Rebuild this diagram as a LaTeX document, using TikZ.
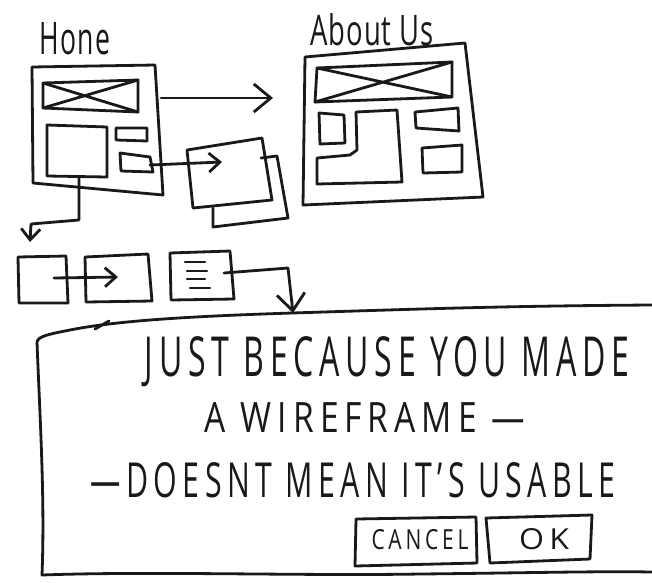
\documentclass[tikz,border=0pt]{standalone}
\usepackage{fontspec}
\setmainfont{Open Sans}
\newfontfamily\sketchfont[LetterSpace=18]{Open Sans}
\newfontfamily\titlefont[LetterSpace=4]{Open Sans}
\usetikzlibrary{arrows.meta}
\tikzset{
  ink/.style={draw=black!90, line width=2.8pt, line join=round, line cap=round},
  thin ink/.style={draw=black!90, line width=2.2pt, line join=round, line cap=round},
  bigbarb/.style={-{Straight Barb[length=17pt,width=28pt,line width=2.8pt]}},
  smallbarb/.style={-{Straight Barb[length=11pt,width=19pt,line width=2.8pt]}},
  label/.style={inner sep=0pt, text=black!90}
}
\begin{document}
\begin{tikzpicture}[x=1pt,y=-1pt]
\useasboundingbox (0,0) rectangle (652,582);
\fill[white] (0,0) rectangle (652,582);

% ---------- Home page ----------
\node[label] (hometitle) at (75,39) {\resizebox{70pt}{32pt}{\titlefont Hone}};
\draw[ink] (32,67) coordinate (hTL) -- (155,65) coordinate (hTR)
  -- (163,195) coordinate (hBR) -- (33,183) coordinate (hBL) -- cycle;
\draw[ink] (43,83) coordinate (hb1) -- (138,80) coordinate (hb2)
  -- (138,112) coordinate (hb3) -- (43,108) coordinate (hb4) -- cycle;
\draw[ink] (hb1) -- (hb3) (hb2) -- (hb4);
\draw[ink] (47,125) -- (107,127) -- (107,177) -- (47,176) -- cycle;
\coordinate (hbigbottom) at (79,177);
\draw[ink] (116,128) -- (147,128) -- (147,141) -- (116,140) -- cycle;
\draw[ink] (120,153) -- (150,157) -- (153,172) -- (121,171) -- cycle;
\coordinate (hsmall) at (150,165);
\coordinate (hright) at (161,98);

% ---------- About Us page ----------
\node[label] (abouttitle) at (372,30) {\resizebox{124pt}{32pt}{\titlefont About Us}};
\draw[ink] (305,57) coordinate (aTL) -- (465,43) coordinate (aTR)
  -- (483,197) coordinate (aBR) -- (303,205) coordinate (aBL) -- cycle;
\draw[ink] (317,68) coordinate (ab1) -- (452,62) coordinate (ab2)
  -- (452,97) coordinate (ab3) -- (315,102) coordinate (ab4) -- cycle;
\draw[ink] (ab1) -- (ab3) (ab2) -- (ab4);
\draw[ink] (319,113) -- (344,115) -- (345,143) -- (320,144) -- cycle;
\draw[ink] (356,112) -- (397,110) -- (402,182) -- (317,184) -- (317,158)
  -- (350,155) -- (357,150) -- cycle;
\draw[ink] (415,112) -- (458,108) -- (459,131) -- (416,128) -- cycle;
\draw[ink] (422,148) -- (462,145) -- (462,172) -- (423,173) -- cycle;
\coordinate (aleft) at (273,98);

% ---------- overlapping pages ----------
\draw[ink] (261,158) -- (277,156) -- (288,218) -- (213,227) -- (213,208);
\draw[ink] (187,150) coordinate (fTL) -- (262,138) coordinate (fTR)
  -- (272,200) coordinate (fBR) -- (193,208) coordinate (fBL) -- cycle;
\coordinate (finside) at (222,162);

% ---------- bottom row ----------
\draw[ink] (18,257) -- (66,256) -- (68,303) -- (19,303) -- cycle;
\draw[ink] (85,257) -- (148,254) -- (152,301) -- (86,302) -- cycle;
\coordinate (aIn) at (54,278);
\coordinate (bIn) at (118,277);
\draw[ink] (170,253) -- (230,251) -- (234,299) -- (171,300) -- cycle;
\draw[thin ink] (185,262) -- (205,262) (187,271) -- (207,271)
  (187,279) -- (205,279) (190,288) -- (210,288);
\coordinate (cOut) at (224,273);

% ---------- dialog ----------
\draw[ink] (652,305) .. controls (500,306) and (420,309) .. (292,313)
  .. controls (200,316) and (120,320) .. (70,330)
  .. controls (50,334) and (38,336) .. (37,342)
  .. controls (40,420) and (45,500) .. (42,575)
  .. controls (150,571) and (300,576) .. (420,574)
  .. controls (520,573) and (600,571) .. (652,572);
\draw[ink] (95,329) -- (109,321);
\coordinate (dtop) at (293,313);

\node[label] (line1) at (387,362) {\resizebox{484pt}{40pt}{\sketchfont JUST BECAUSE YOU MADE}};
\node[label] (line2) at (365,417) {\resizebox{320pt}{30pt}{\sketchfont A WIREFRAME —}};
\node[label] (line3) at (353,480) {\resizebox{525pt}{35pt}{\sketchfont —DOESNT MEAN IT’S USABLE}};

\draw[ink] (356,519) -- (476,517) -- (477,563) -- (355,566) -- cycle;
\node[label] (cancel) at (420,540) {\resizebox{97pt}{20pt}{\sketchfont CANCEL}};
\draw[ink] (486,518) -- (592,515) -- (590,559) -- (490,563) -- cycle;
\node[label] (ok) at (544,539) {\resizebox{50pt}{21pt}{\sketchfont O\,K}};

% ---------- connectors ----------
\draw[ink, bigbarb] (hright) -- (aleft);
\draw[ink, smallbarb] (hsmall) -- (finside);
\draw[ink, smallbarb] (hbigbottom) -- (79,220) -- (31,224) -- (30,242);
\draw[ink, smallbarb] (aIn) -- (bIn);
\draw[ink, bigbarb] (cOut) -- (288,268) -- (dtop);
\end{tikzpicture}
\end{document}
